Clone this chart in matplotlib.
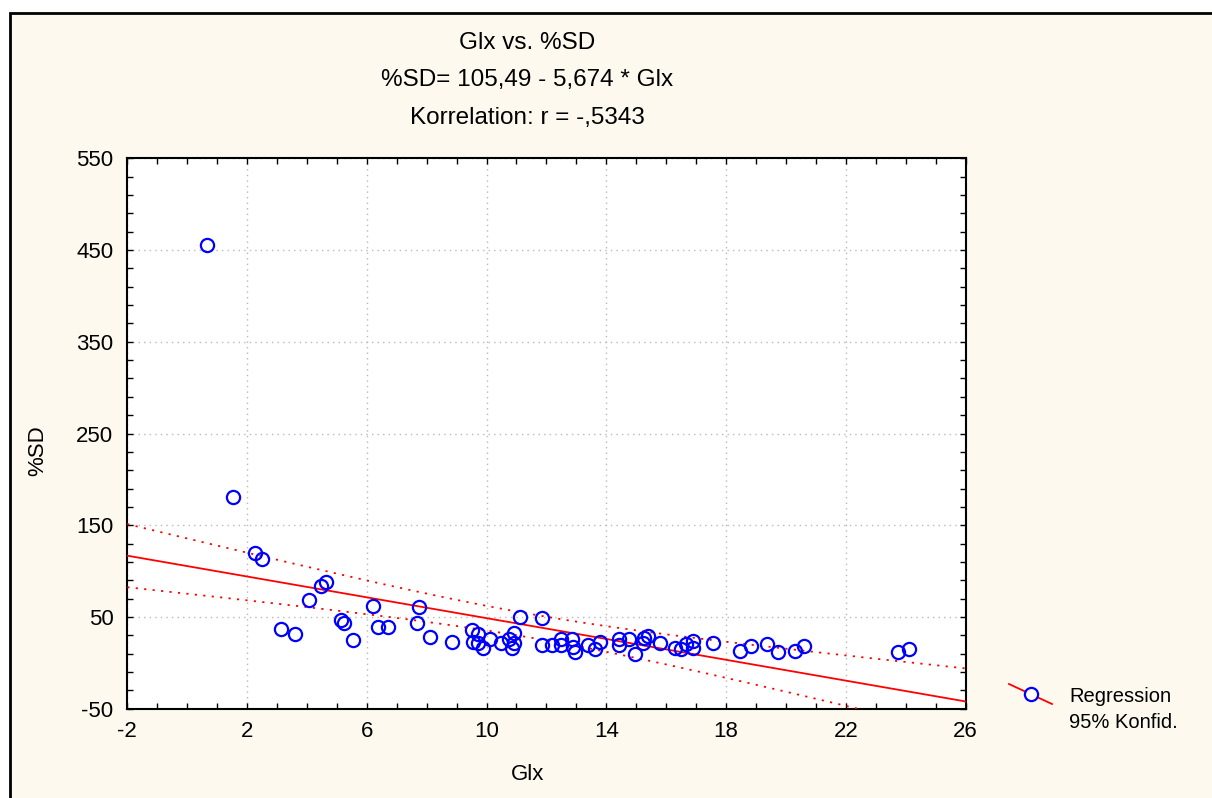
import numpy as np
import matplotlib
matplotlib.use('Agg')
import matplotlib.pyplot as plt
from matplotlib.patches import Rectangle
from matplotlib.lines import Line2D

plt.rcParams['font.family'] = ['Liberation Sans', 'DejaVu Sans']
plt.rcParams['axes.unicode_minus'] = False

# Glx values (x) and %SD values (y)
glx = [0.65, 1.54, 2.25, 2.49, 3.13, 3.60, 4.07, 4.46, 4.65, 5.14, 5.24, 5.55,
       6.21, 6.38, 6.72, 7.68, 7.74, 8.11, 8.84, 9.52, 9.70, 9.55, 9.72, 9.89,
       10.13, 10.48, 10.75, 10.91, 10.91, 10.86, 11.11, 11.86, 11.84, 12.19,
       12.50, 12.50, 12.87, 12.95, 12.89, 13.39, 13.62, 13.78, 14.42, 14.42,
       14.76, 14.95, 15.26, 15.40, 15.23, 15.79, 16.29, 16.51, 16.68, 16.90,
       16.90, 17.57, 18.46, 18.82, 19.38, 19.72, 20.32, 20.60, 23.74, 24.10]
sd = [455.4, 180.5, 120.1, 112.9, 36.9, 31.5, 68.5, 83.8, 87.8, 46.7, 43.8, 25.3,
      61.7, 38.8, 38.8, 43.1, 61.2, 27.9, 23.1, 35.8, 31.2, 23.1, 22.0, 16.5,
      25.7, 22.0, 26.0, 32.9, 22.0, 16.5, 49.8, 48.4, 19.5, 19.5,
      25.7, 19.5, 25.7, 11.6, 17.0, 19.9, 15.5, 22.8, 25.7, 19.2,
      25.7, 10.1, 27.4, 29.3, 22.0, 21.4, 16.5, 14.8, 20.2, 23.8,
      16.5, 21.3, 12.9, 18.4, 20.2, 11.5, 12.9, 18.4, 12.2, 15.1]

x_ticks = [-2, 2, 6, 10, 14, 18, 22, 26]
y_ticks = [-50, 50, 150, 250, 350, 450, 550]

intercept = 105.49
slope = -5.674

x = np.array(glx)
y = np.array(sd)
n = len(x)

# regression line and 95% confidence band
xs = np.linspace(-2, 26, 300)
fit = intercept + slope * xs
resid = y - (intercept + slope * x)
s = np.sqrt(np.sum(resid ** 2) / (n - 2))
sxx = np.sum((x - x.mean()) ** 2)
hw = 2.0 * s * np.sqrt(1.0 / n + (xs - x.mean()) ** 2 / sxx)

bg = '#fdf9ee'
fig = plt.figure(figsize=(12.12, 7.98), dpi=100, facecolor='white')
fig.add_artist(Rectangle((10 / 1212, -0.01), 1.02, 1 - 13 / 798 + 0.01,
                         transform=fig.transFigure, facecolor=bg,
                         edgecolor='black', lw=2, zorder=-10))

ax = fig.add_axes([127.3 / 1212, 1 - 708.75 / 798, (965.5 - 127.3) / 1212,
                   (708.75 - 158.25) / 798])
ax.set_facecolor('white')

ax.plot(xs, fit, color='red', lw=1.3, zorder=3)
ax.plot(xs, fit + hw, color='red', lw=1.3, ls=(0, (1.2, 3.5)), zorder=3)
ax.plot(xs, fit - hw, color='red', lw=1.3, ls=(0, (1.2, 3.5)), zorder=3)
ax.plot(x, y, 'o', mfc='none', mec='blue', ms=9.5, mew=1.6, zorder=4)

ax.set_xlim(-2, 26)
ax.set_ylim(-50, 550)
ax.set_xticks(x_ticks)
ax.set_yticks(y_ticks)
ax.set_xticks(np.arange(-2, 26.5, 1), minor=True)
ax.set_yticks(np.arange(-50, 551, 20), minor=True)
ax.tick_params(which='both', direction='in', top=True, right=True,
               length=4, width=1, labelsize=16)
ax.tick_params(axis='x', pad=9)
ax.tick_params(axis='y', pad=10)
ax.grid(True, which='major', color='#b8b8b8', ls=(0, (1, 3)), lw=1)
for sp in ax.spines.values():
    sp.set_linewidth(1.5)

ax.set_xlabel('Glx', fontsize=16)
ax.set_ylabel('%SD', fontsize=16)
ax.xaxis.set_label_coords(0.477, -0.100)
ax.yaxis.set_label_coords(-0.094, 0.468)

fig.text(527 / 1212, 1 - 43 / 798, 'Glx vs. %SD', ha='center', va='center', fontsize=17.5)
fig.text(527 / 1212, 1 - 80 / 798, '%SD= 105,49 - 5,674 * Glx', ha='center', va='center', fontsize=17.5)
fig.text(527 / 1212, 1 - 118 / 798, 'Korrelation: r = -,5343', ha='center', va='center', fontsize=17.5)

# legend symbol
fig.add_artist(Line2D([1009 / 1212, 1052 / 1212], [1 - 684 / 798, 1 - 704 / 798],
                      transform=fig.transFigure, color='red', lw=1.3))
fig.add_artist(Line2D([1030.5 / 1212], [1 - 694 / 798], transform=fig.transFigure,
                      marker='o', mfc='white', mec='blue', ms=9.5, mew=1.6))
fig.text(1069 / 1212, 1 - 697 / 798, 'Regression', ha='left', va='center', fontsize=14.5)
fig.text(1069 / 1212, 1 - 723 / 798, '95% Konfid.', ha='left', va='center', fontsize=14.5)

fig.savefig('out.png', dpi=100, facecolor='white')
